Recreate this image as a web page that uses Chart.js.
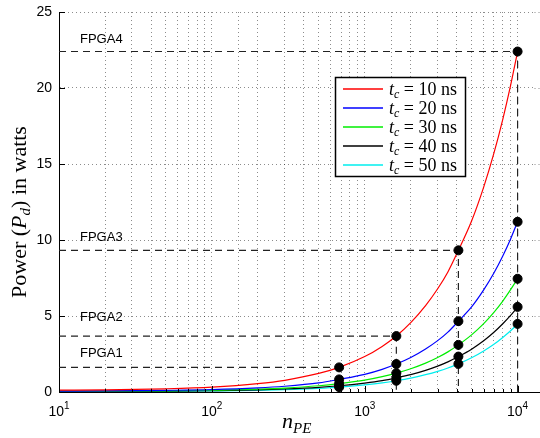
<!DOCTYPE html>
<html>
<head>
<meta charset="utf-8">
<script src="https://cdn.jsdelivr.net/npm/chart.js@4.4.1/dist/chart.umd.min.js"></script>
<style>
  html, body { margin: 0; padding: 0; background: #fff; }
  #wrap { width: 540px; height: 438px; }
</style>
</head>
<body>
<div id="wrap"><canvas id="chart" width="540" height="438"></canvas></div>
<script>
// values
const nPE = [10, 20, 50, 100, 200, 300, 500, 680, 1000, 1300, 1610, 2000, 2500, 3000, 3500, 4100, 5000, 6000, 7000, 8000, 9000, 10000]
const tcValues = [10, 20, 30, 40, 50]
const power10 = [0.12, 0.14, 0.21, 0.32, 0.55, 0.77, 1.22, 1.62, 2.33, 3.0, 3.68, 4.56, 5.68, 6.79, 7.9, 9.32, 11.25, 13.48, 15.71, 17.94, 20.17, 22.4]
const power20 = [0.06, 0.07, 0.11, 0.16, 0.27, 0.38, 0.6, 0.83, 1.16, 1.49, 1.84, 2.27, 2.83, 3.38, 3.94, 4.66, 5.6, 6.72, 7.83, 8.95, 10.07, 11.2]
const power30 = [0.05, 0.05, 0.08, 0.11, 0.19, 0.26, 0.41, 0.55, 0.78, 1.01, 1.24, 1.53, 1.9, 2.27, 2.64, 3.1, 3.76, 4.5, 5.24, 5.98, 6.73, 7.45]
const power40 = [0.04, 0.04, 0.06, 0.09, 0.14, 0.2, 0.31, 0.41, 0.59, 0.75, 0.93, 1.14, 1.42, 1.7, 1.98, 2.33, 2.82, 3.37, 3.93, 4.49, 5.04, 5.6]
const power50 = [0.02, 0.03, 0.04, 0.07, 0.11, 0.15, 0.24, 0.32, 0.47, 0.6, 0.74, 0.91, 1.14, 1.36, 1.58, 1.85, 2.25, 2.7, 3.14, 3.59, 4.03, 4.48]
const fpgaNames = ["FPGA1", "FPGA2", "FPGA3", "FPGA4"]
const fpgaPE = [680, 1610, 4100, 10000]
const fpgaLabelPower = [2.55, 4.9, 10.2, 23.2]
const yTicks = [0, 5, 10, 15, 20, 25]
const xDecades = [1, 2, 3, 4]

const allPower = [power10, power20, power30, power40, power50]
const colors = ["#ff0000", "#0000ff", "#00ee00", "#000000", "#00eeee"]
const serif = '"Liberation Serif", "DejaVu Serif", serif'
const sans = '"Liberation Sans", Arial, sans-serif'

const curveSets = allPower.map((p, i) => ({
  type: "line",
  label: "t_c = " + tcValues[i] + " ns",
  data: nPE.map((n, k) => ({ x: n, y: p[k] })),
  borderColor: colors[i],
  borderWidth: 1.2,
  pointRadius: 0,
  cubicInterpolationMode: "monotone",
  order: 2
}))

const guideSets = fpgaPE.map((n, i) => {
  const top = power10[nPE.indexOf(n)]
  return {
    type: "line",
    label: fpgaNames[i],
    data: [{ x: 10, y: top }, { x: n, y: top }, { x: n, y: 0 }],
    borderColor: "#222",
    borderWidth: 1.2,
    borderDash: [7, 5],
    pointRadius: 0,
    order: 3
  }
})

const markerSet = {
  type: "line",
  label: "markers",
  data: fpgaPE.flatMap(n => allPower.map(p => ({ x: n, y: p[nPE.indexOf(n)] }))),
  showLine: false,
  pointRadius: 4.5,
  pointBackgroundColor: "#000",
  pointBorderColor: "#000",
  order: 1
}

function drawRuns(ctx, runs, x, y) {
  // runs: [text, font, dy]
  for (const [t, f, dy] of runs) {
    ctx.font = f
    ctx.fillText(t, x, y + (dy || 0))
    x += ctx.measureText(t).width
  }
  return x
}
function runsWidth(ctx, runs) {
  let w = 0
  for (const [t, f] of runs) { ctx.font = f; w += ctx.measureText(t).width }
  return w
}

const decor = {
  id: "decor",
  afterDraw(chart) {
    const { ctx, chartArea: a, scales: { x, y } } = chart
    ctx.save()
    ctx.fillStyle = "#000"
    ctx.strokeStyle = "#000"
    ctx.lineWidth = 1

    // y grid continues to the canvas edge
    ctx.save()
    ctx.strokeStyle = "rgba(0,0,0,0.45)"
    ctx.setLineDash([1, 3])
    ctx.beginPath()
    yTicks.slice(1).forEach(v => {
      const py = Math.round(y.getPixelForValue(v)) + 0.5
      ctx.moveTo(a.right, py); ctx.lineTo(540, py)
    })
    ctx.stroke()
    ctx.restore()
    ctx.beginPath(); ctx.moveTo(a.right, a.bottom + 0.5); ctx.lineTo(540, a.bottom + 0.5); ctx.stroke()

    // inward tick marks
    ctx.beginPath()
    x.ticks.forEach(t => {
      const px = Math.round(x.getPixelForValue(t.value)) + 0.5
      const lg = Math.log10(t.value)
      const len = Math.abs(lg - Math.round(lg)) < 1e-6 ? 6 : 3
      ctx.moveTo(px, a.bottom); ctx.lineTo(px, a.bottom - len)
    })
    yTicks.forEach(v => {
      const py = Math.round(y.getPixelForValue(v)) + 0.5
      ctx.moveTo(a.left, py); ctx.lineTo(a.left + 6, py)
    })
    ctx.stroke()

    // y tick labels
    ctx.font = "14px " + sans
    ctx.textAlign = "right"
    ctx.textBaseline = "middle"
    yTicks.forEach(v => ctx.fillText(String(v), 52, y.getPixelForValue(v)))

    // x tick labels 10^k
    ctx.textAlign = "left"
    ctx.textBaseline = "alphabetic"
    xDecades.forEach(k => {
      const runs = [["10", "14px " + sans, 0], [String(k), "10px " + sans, -7]]
      const w = runsWidth(ctx, runs)
      const px = x.getPixelForValue(Math.pow(10, k))
      drawRuns(ctx, runs, px - w / 2, 416)
    })

    // axis titles
    const xt = [["n", "italic 22px " + serif, 0], ["P", "italic 15px " + serif, 5], ["E", "italic 15px " + serif, 5]]
    drawRuns(ctx, xt, 282, 428)

    ctx.save()
    ctx.translate(26, 212)
    ctx.rotate(-Math.PI / 2)
    const yt = [["Power (", "22px " + serif, 0], ["P", "italic 22px " + serif, 0], ["d", "italic 15px " + serif, 4],
                [")", "22px " + serif, 0], [" in watts", "22px " + serif, 0]]
    drawRuns(ctx, yt, -runsWidth(ctx, yt) / 2, 0)
    ctx.restore()

    // FPGA labels
    ctx.font = "13px " + sans
    ctx.textBaseline = "middle"
    fpgaNames.forEach((name, i) => ctx.fillText(name, 80, y.getPixelForValue(fpgaLabelPower[i])))

    // legend
    const lx = 335.5, ly = 77.5, lw = 130, lh = 99
    ctx.fillStyle = "#fff"
    ctx.fillRect(lx, ly, lw, lh)
    ctx.lineWidth = 1.5
    ctx.strokeStyle = "#000"
    ctx.strokeRect(lx, ly, lw, lh)
    ctx.textBaseline = "alphabetic"
    tcValues.forEach((tc, i) => {
      const ry = 89 + i * 19
      ctx.strokeStyle = colors[i]
      ctx.lineWidth = 1.5
      ctx.beginPath(); ctx.moveTo(343, ry); ctx.lineTo(383, ry); ctx.stroke()
      ctx.fillStyle = "#000"
      drawRuns(ctx, [["t", "italic 18px " + serif, 0], ["c", "italic 12px " + serif, 3],
                     [" = " + tc + " ns", "18px " + serif, 0]], 389, ry + 6)
    })
    ctx.restore()
  }
}

new Chart(document.getElementById("chart"), {
  data: { datasets: [...curveSets, ...guideSets, markerSet] },
  options: {
    responsive: false,
    animation: false,
    events: [],
    layout: { padding: { top: 12, right: 0, bottom: 0, left: 0 } },
    plugins: { legend: { display: false }, tooltip: { enabled: false } },
    scales: {
      x: {
        type: "logarithmic",
        min: 10,
        max: 12900,
        afterBuildTicks: s => { s.ticks = s.ticks.filter(t => t.value <= 10000) },
        afterFit: s => { s.height = 46 },
        ticks: { display: false },
        grid: { color: "rgba(0,0,0,0.45)", lineWidth: 1, drawTicks: false },
        border: { color: "#000", width: 1, dash: [1, 3] }
      },
      y: {
        min: 0,
        max: 25,
        ticks: { display: false, stepSize: 5 },
        afterFit: s => { s.width = 59 },
        grid: { color: "rgba(0,0,0,0.45)", lineWidth: 1, drawTicks: false },
        border: { color: "#000", width: 1, dash: [1, 3] }
      }
    }
  },
  plugins: [decor]
})
</script>
</body>
</html>
